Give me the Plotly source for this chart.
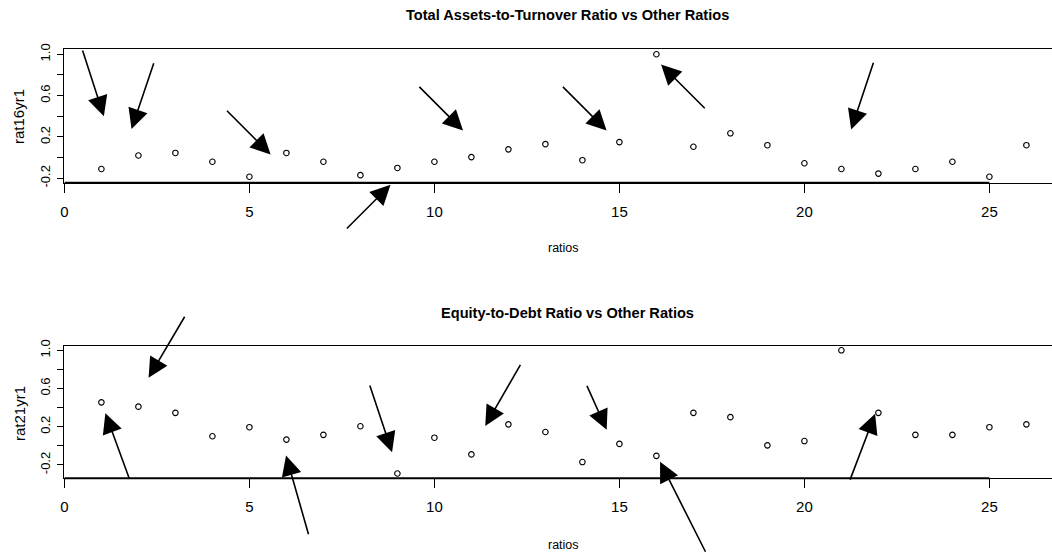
import plotly.graph_objects as go

# Ratio index (1..26) and the two ratio series plotted against it
ratio_index = list(range(1, 27))
rat16yr1 = [-0.11, 0.02, 0.045, -0.04, -0.185, 0.045, -0.04, -0.17, -0.10, -0.04,
            0.005, 0.08, 0.13, -0.025, 0.15, 1.0, 0.105, 0.235, 0.12, -0.055,
            -0.11, -0.155, -0.11, -0.04, -0.185, 0.12]
rat21yr1 = [0.455, 0.41, 0.345, 0.10, 0.195, 0.065, 0.115, 0.205, -0.29, 0.085,
            -0.09, 0.225, 0.145, -0.17, 0.02, -0.105, 0.345, 0.30, 0.005, 0.05,
            1.0, 0.345, 0.115, 0.115, 0.195, 0.225]

x_ticks = [0, 5, 10, 15, 20, 25]
y_ticks = [-0.2, 0.0, 0.2, 0.4, 0.6, 0.8, 1.0]
y_tick_text = ["-0.2", "", "0.2", "", "0.6", "", "1.0"]

top_title = "Total Assets-to-Turnover Ratio vs Other Ratios"
bottom_title = "Equity-to-Debt Ratio vs Other Ratios"

# Pointer arrows: (tip x, tip y) in data units, tail offset in pixels
top_arrows = [
    (1.10, 0.364, -23, -71),
    (1.78, 0.241, 24, -71),
    (5.65, 0.003, -48, -48),
    (8.89, -0.236, -48, 48),
    (10.85, 0.235, -48, -48),
    (14.73, 0.235, -48, -48),
    (16.05, 0.928, 48, 48),
    (21.23, 0.235, 24, -72),
]
bottom_arrows = [
    (2.22, 0.676, 39, -66),
    (1.07, 0.381, 26, 71),
    (5.96, -0.062, 24, 84),
    (8.89, -0.106, -24, -72),
    (11.32, 0.172, 38, -66),
    (14.70, 0.130, -22, -49),
    (16.05, -0.130, 48, 95),
    (21.95, 0.374, -27, 71),
]

W, H = 1052, 554
FONT = "Liberation Sans, Arial, sans-serif"

fig = go.Figure()
marker = dict(symbol="circle-open", size=5.5, color="black", line=dict(width=1.1, color="black"))
fig.add_trace(go.Scatter(x=ratio_index, y=rat16yr1, mode="markers", marker=marker,
                         xaxis="x", yaxis="y", showlegend=False))
fig.add_trace(go.Scatter(x=ratio_index, y=rat21yr1, mode="markers", marker=marker,
                         xaxis="x2", yaxis="y2", showlegend=False))

x_left = 64.4 / W
x_max = (W - 64.4) / 37.0

common_x = dict(range=[0, x_max], domain=[x_left, 1], tickmode="array", tickvals=x_ticks,
                ticks="outside", ticklen=9, tickwidth=1, tickcolor="black",
                showgrid=False, zeroline=False, showline=True, mirror=True,
                linecolor="black", linewidth=1.3, automargin=False,
                tickfont=dict(family=FONT, size=15, color="black"),
                ticklabelstandoff=6)
common_y = dict(tickmode="array", tickvals=y_ticks, ticktext=y_tick_text, tickangle=-90,
                ticks="outside", ticklen=6, tickwidth=1, tickcolor="black",
                showgrid=False, zeroline=False, showline=True, mirror=False,
                linecolor="black", linewidth=1.3, automargin=False,
                tickfont=dict(family=FONT, size=13, color="black"),
                ticklabelstandoff=2)

fig.update_layout(
    width=W, height=H,
    margin=dict(l=0, r=0, t=0, b=0, pad=0, autoexpand=False),
    paper_bgcolor="white", plot_bgcolor="white",
    xaxis=dict(common_x, anchor="y"),
    yaxis=dict(common_y, anchor="x", domain=[1 - 182.7 / H, 1 - 48.7 / H], range=[-0.243, 1.054]),
    xaxis2=dict(common_x, anchor="y2"),
    yaxis2=dict(common_y, anchor="x2", domain=[1 - 478.3 / H, 1 - 346 / H], range=[-0.34, 1.045]),
)

# heavier axis segment along the labelled part of each x axis
for ya in ("y", "y2"):
    xa = "x" if ya == "y" else "x2"
    fig.add_shape(type="line", xref=xa, yref=f"{ya} domain", x0=x_ticks[0], x1=x_ticks[-1],
                  y0=0, y1=0, line=dict(color="black", width=2))

annotations = []
for ya, arrows in (("y", top_arrows), ("y2", bottom_arrows)):
    xa = "x" if ya == "y" else "x2"
    for tx, ty, dx, dy in arrows:
        annotations.append(dict(
            x=tx, y=ty, xref=xa, yref=ya, ax=dx, ay=dy, axref="pixel", ayref="pixel",
            text="", showarrow=True, arrowhead=2, arrowsize=2.5, arrowwidth=1.6,
            arrowcolor="black", standoff=4, font=dict(size=1)))

def label(text, px, py, size, bold=False, angle=0):
    return dict(text=f"<b>{text}</b>" if bold else text, xref="paper", yref="paper",
                x=px / W, y=1 - py / H, xanchor="center", yanchor="middle",
                showarrow=False, textangle=angle,
                font=dict(family=FONT, size=size, color="black"))

annotations += [
    label(top_title, 567, 14.5, 14.6, bold=True),
    label(bottom_title, 567, 312.5, 14.6, bold=True),
    label("ratios", 563, 248, 12.5),
    label("ratios", 563, 545, 12.5),
    label("rat16yr1", 19, 116, 15, angle=-90),
    label("rat21yr1", 19, 413, 15, angle=-90),
]
fig.update_layout(annotations=annotations)

fig.write_html("out.html")
